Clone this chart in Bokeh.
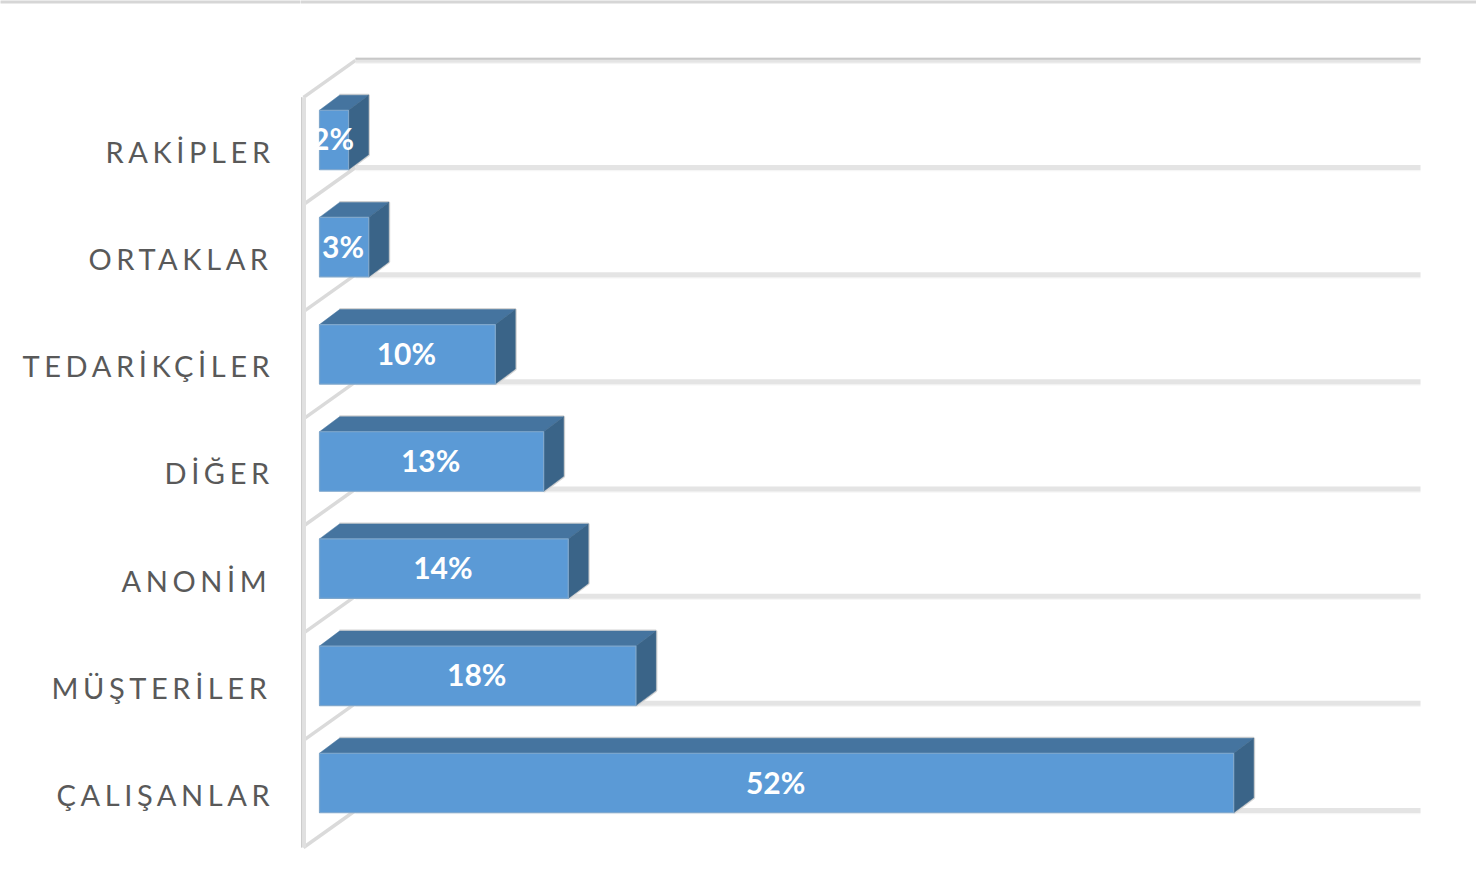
from bokeh.embed import file_html
from bokeh.resources import INLINE
from bokeh.layouts import row
from bokeh.plotting import figure
from bokeh.models import Range1d
from bokeh.core.properties import value as fv

categories = ["ÇALIŞANLAR", "MÜŞTERİLER", "ANONİM", "DİĞER", "TEDARİKÇİLER", "ORTAKLAR", "RAKİPLER"]
values = [52.0, 18.0, 14.15, 12.75, 10.0, 2.8, 1.65]
labels = ["52%", "18%", "14%", "13%", "10%", "3%", "2%"]
category_left_px = [56, 51, 121, 164, 22, 88, 105]

PX_PER_UNIT = 17.58
PX_PER_CAT = 107.17
BAR_H = 59.5 / PX_PER_CAT
W, H = 1476, 887
LEFT_W = 300
X0_PX, Y0_PX = 319, 782.5


def ux(px):
    return px / PX_PER_UNIT


def uy(px):
    return px / PX_PER_CAT


y_range = Range1d((Y0_PX - H) / PX_PER_CAT, Y0_PX / PX_PER_CAT)
x_range = Range1d((LEFT_W - X0_PX) / PX_PER_UNIT, (W - X0_PX) / PX_PER_UNIT)

# left panel: category names, letter-spaced through the inherited CSS property
left = figure(width=LEFT_W, height=H, x_range=(0, LEFT_W), y_range=y_range, output_backend="svg",
              toolbar_location=None, min_border=0)
left.axis.visible = False
left.grid.visible = False
left.outline_line_color = None
left.styles = {"letter-spacing": "4.6px"}
left.text(x=category_left_px, y=[i + uy(-11.5) for i in range(len(categories))], text=categories,
          text_align="left", text_baseline="middle", text_color="#595959",
          text_font=fv("Lato"), text_font_size="29px")

p = figure(width=W - LEFT_W, height=H, x_range=x_range, y_range=y_range, output_backend="svg",
           toolbar_location=None, min_border=0)
p.axis.visible = False
p.grid.visible = False
p.outline_line_color = None

# page top rule
for f, xr in ((left, (0, LEFT_W)), (p, (x_range.start, x_range.end))):
    f.segment([xr[0]], [y_range.end - uy(0.5)], [xr[1]], [y_range.end - uy(0.5)], line_color="#d6d6d6",
              line_width=5, line_cap="square")

# 3-D walls
wall_dx, wall_dy = ux(52), uy(37)
back_x0, right_x = ux(355 - X0_PX), ux(1420 - X0_PX)
grid_y = [i + uy(Y0_PX - 810) for i in range(len(categories) + 1)]
front_x = back_x0 - wall_dx
for k, gy in enumerate(grid_y):
    top = k == len(categories)
    p.line([front_x, back_x0], [gy - wall_dy, gy], line_color="#dadada", line_width=3.5)
    p.line([back_x0, right_x], [gy - uy(3), gy - uy(3)], line_color="#f6f6f6", line_width=1.5)
    p.line([back_x0, right_x], [gy, gy], line_color="#e4e4e4", line_width=5)
    if top:
        p.line([back_x0, right_x], [gy + uy(1.5), gy + uy(1.5)], line_color="#c8c8c8", line_width=2)
p.line([front_x, front_x], [grid_y[0] - wall_dy, grid_y[-1] - wall_dy], line_color="#e0e0e0", line_width=5)
p.line([front_x - ux(2), front_x - ux(2)], [grid_y[0] - wall_dy, grid_y[-1] - wall_dy], line_color="#cccccc", line_width=1)

# bars
dx, dy = ux(20), uy(15)
for i, v in enumerate(values):
    b, t = i - BAR_H / 2, i + BAR_H / 2
    # soft grey edge behind the box
    p.line([dx, v + dx, v + dx, v], [t + dy, t + dy, b + dy, b], line_color="#d4d4d4", line_width=3)
    p.patch([0, dx, v + dx, v], [t, t + dy, t + dy, t], fill_color="#45749f", line_color="#45749f", line_width=0.5)
    p.patch([v, v + dx, v + dx, v], [t, t + dy, b + dy, b], fill_color="#3a6488", line_color="#3a6488", line_width=0.5)
    p.quad(left=[0], right=[v], bottom=[b], top=[t], fill_color="#5b9ad6", line_color="#7fa7cc", line_width=1.2)

p.text(x=[v / 2 + ux(-1) for v in values], y=[i + uy(1.5) for i in range(len(values))], text=labels,
       text_align="center", text_baseline="middle", text_color="#ffffff",
       text_font=fv("Lato"), text_font_style="bold", text_font_size="30px")

layout = row(left, p, spacing=0)
html = file_html(layout, INLINE).replace("<head>", "<head><style>html,body{margin:0;padding:0}</style>", 1)
open("out.html", "w").write(html)
